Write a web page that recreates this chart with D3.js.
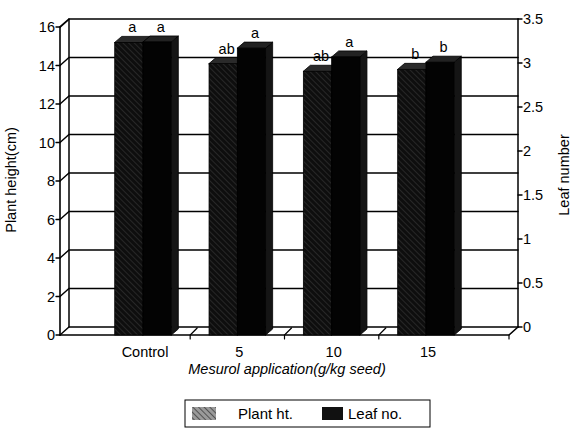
<!DOCTYPE html>
<html><head><meta charset="utf-8">
<script src="https://cdn.jsdelivr.net/npm/d3@7"></script>
<style>body{margin:0;background:#fff}svg{display:block}text{font-family:"Liberation Sans",Arial,sans-serif;fill:#000}</style>
</head><body><svg id="c" width="576" height="435"></svg>
<script>
const categories = ["Control", "5", "10", "15"];
const plantHeight = [15.2, 14.1, 13.7, 13.8];
const leafNumber = [3.33, 3.26, 3.16, 3.10];
const plantLetters = ["a", "ab", "ab", "b"];
const leafLetters = ["a", "a", "a", "b"];
const leftTicks = [0, 2, 4, 6, 8, 10, 12, 14, 16];
const rightTicks = [0, 0.5, 1, 1.5, 2, 2.5, 3, 3.5];
const seriesNames = ["Plant ht.", "Leaf no."];

const svg = d3.select("#c");
const FX0 = 60, FX1 = 509, FY0 = 335, DX = 9, DY = 8;
const BX0 = FX0 + DX, BX1 = FX1 + DX, BY0 = FY0 - DY;
const yL = d3.scaleLinear().domain([0, 16]).range([FY0, 27]);
const yR = d3.scaleLinear().domain([0, 3.5]).range([BY0, 19]);
const x = d3.scaleBand().domain(categories).range([77, 492]).paddingInner(0.4).paddingOuter(0.4);
const xs = d3.scaleBand().domain(seriesNames).range([0, x.bandwidth()]);
const bdx = 7, bdy = 6;

const defs = svg.append("defs");
function hatch(id, bg, fg, w) {
  const p = defs.append("pattern").attr("id", id).attr("patternUnits", "userSpaceOnUse")
    .attr("width", 4).attr("height", 4).attr("patternTransform", "rotate(-45)");
  p.append("rect").attr("width", 4).attr("height", 4).attr("fill", bg);
  p.append("line").attr("x1", 0).attr("y1", 0).attr("x2", 0).attr("y2", 4).attr("stroke", fg).attr("stroke-width", w);
}
hatch("hbar", "#0e0e0e", "#444", 0.9);
hatch("hleg", "#9a9a9a", "#2a2a2a", 1.3);

const g = svg.append("g").attr("stroke-linecap", "round");
g.append("line").attr("x1", BX0).attr("y1", yL(16) - DY).attr("x2", BX0).attr("y2", BY0).attr("stroke", "#000").attr("stroke-width", 1.5);
g.append("line").attr("x1", BX1).attr("y1", yL(16) - DY).attr("x2", BX1).attr("y2", BY0).attr("stroke", "#000").attr("stroke-width", 1.5);
leftTicks.forEach(v => {
  const yf = yL(v);
  g.append("path").attr("d", `M${FX0},${yf}L${BX0},${yf - DY}L${BX1},${yf - DY}`)
    .attr("fill", "none").attr("stroke", "#000").attr("stroke-width", v === 16 ? 1.7 : 1.4);
});
g.append("path").attr("d", `M${FX0},${FY0}L${FX1},${FY0}L${BX1},${BY0}`).attr("fill", "none").attr("stroke", "#000").attr("stroke-width", 1.6);
const step = x.step();
categories.slice(1).forEach(c => {
  const bx = x(c) - step * x.paddingInner() / 2;
  g.append("path").attr("d", `M${bx},${FY0 + 4}L${bx},${FY0}L${bx + DX - 2},${FY0 - DY + 1}`).attr("fill", "none").attr("stroke", "#000").attr("stroke-width", 1.2);
});
g.append("line").attr("x1", FX1).attr("y1", FY0).attr("x2", FX1).attr("y2", FY0 + 4).attr("stroke", "#000").attr("stroke-width", 1.2);

function bar(x0, w, yTop, front, top, side) {
  const x1 = x0 + w;
  g.append("path").attr("d", `M${x1},${yTop}L${x1 + bdx},${yTop - bdy}L${x1 + bdx},${FY0 - bdy}L${x1},${FY0}Z`).attr("fill", side).attr("stroke", "#000").attr("stroke-width", 0.8);
  g.append("path").attr("d", `M${x0},${yTop}L${x0 + bdx},${yTop - bdy}L${x1 + bdx},${yTop - bdy}L${x1},${yTop}Z`).attr("fill", top).attr("stroke", "#000").attr("stroke-width", 0.8);
  g.append("rect").attr("x", x0).attr("y", yTop).attr("width", w).attr("height", FY0 - yTop).attr("fill", front).attr("stroke", "#000").attr("stroke-width", 0.8);
}
function label(t, cx, yTop) {
  svg.append("text").attr("x", cx + bdx / 2).attr("y", yTop - bdy - 4).attr("text-anchor", "middle").attr("font-size", 14.5).text(t);
}
categories.forEach((c, i) => {
  const xp = x(c) + xs("Plant ht."), xl = x(c) + xs("Leaf no."), w = xs.bandwidth();
  const yp = yL(plantHeight[i]), yl = yR(leafNumber[i]) + DY;
  bar(xp, w, yp, "url(#hbar)", "#2a2a2a", "#0a0a0a");
  bar(xl, w, yl, "#030303", "#222", "#151515");
  label(plantLetters[i], xp + w / 2, yp);
  label(leafLetters[i], xl + w / 2, yl);
});

g.append("line").attr("x1", FX0).attr("y1", yL(16)).attr("x2", FX0).attr("y2", FY0).attr("stroke", "#000").attr("stroke-width", 1.6);
leftTicks.forEach(v => {
  g.append("line").attr("x1", FX0 - 4).attr("x2", FX0).attr("y1", yL(v)).attr("y2", yL(v)).attr("stroke", "#000").attr("stroke-width", 1.4);
  svg.append("text").attr("x", FX0 - 5).attr("y", yL(v) + 5).attr("text-anchor", "end").attr("font-size", 14.5).text(v);
});
rightTicks.forEach(v => {
  g.append("line").attr("x1", BX1).attr("x2", BX1 + 4).attr("y1", yR(v)).attr("y2", yR(v)).attr("stroke", "#000").attr("stroke-width", 1.4);
  svg.append("text").attr("x", BX1 + 5).attr("y", yR(v) + 5).attr("text-anchor", "start").attr("font-size", 14.5).text(v);
});
categories.forEach(c => {
  svg.append("text").attr("x", x(c) + x.bandwidth() / 2 + 2).attr("y", 357).attr("text-anchor", "middle").attr("font-size", 14.5).text(c);
});
svg.append("text").attr("x", 287).attr("y", 374).attr("text-anchor", "middle").attr("font-size", 14.5).attr("font-style", "italic").text("Mesurol application(g/kg seed)");
svg.append("text").attr("transform", "translate(16,180) rotate(-90)").attr("text-anchor", "middle").attr("font-size", 14.5).text("Plant height(cm)");
svg.append("text").attr("transform", "translate(569,175) rotate(-90)").attr("text-anchor", "middle").attr("font-size", 14.5).text("Leaf number");

const lg = svg.append("g");
lg.append("rect").attr("x", 185).attr("y", 400).attr("width", 245).attr("height", 27).attr("fill", "#fff").attr("stroke", "#000").attr("stroke-width", 1);
lg.append("rect").attr("x", 192).attr("y", 407).attr("width", 24).attr("height", 13).attr("fill", "url(#hleg)");
lg.append("text").attr("x", 238).attr("y", 419).attr("font-size", 15).text(seriesNames[0]);
lg.append("rect").attr("x", 322).attr("y", 407).attr("width", 21).attr("height", 13).attr("fill", "#111");
lg.append("text").attr("x", 348).attr("y", 419).attr("font-size", 15).text(seriesNames[1]);
</script></body></html>
